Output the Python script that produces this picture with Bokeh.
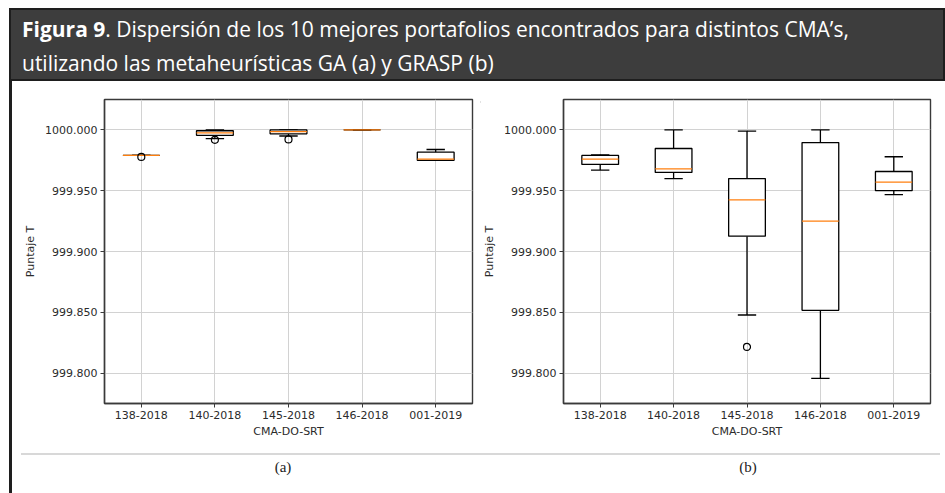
from bokeh.plotting import figure
from bokeh.models import Div, FixedTicker, PrintfTickFormatter
from bokeh.layouts import column, row
from bokeh.embed import file_html
from bokeh.resources import INLINE

# ---------------- data ----------------
categories = ["138-2018", "140-2018", "145-2018", "146-2018", "001-2019"]
y_ticks = [999.800, 999.850, 999.900, 999.950, 1000.000]
y_limits = (999.775, 1000.025)

# (a) GA
ga_q1 = [999.9790, 999.9955, 999.9968, 1000.0000, 999.9750]
ga_q3 = [999.9790, 999.9993, 1000.0000, 1000.0000, 999.9817]
ga_median = [999.9790, 999.9975, 999.9985, 1000.0000, 999.9760]
ga_whisker_low = [999.9790, 999.9928, 999.9950, 1000.0000, 999.9750]
ga_whisker_high = [999.9790, 1000.0000, 1000.0000, 1000.0000, 999.9839]
ga_outlier_cat = ["138-2018", "140-2018", "145-2018"]
ga_outlier_val = [999.9778, 999.9918, 999.9922]

# (b) GRASP
grasp_q1 = [999.9716, 999.9650, 999.9126, 999.8516, 999.9500]
grasp_q3 = [999.9790, 999.9847, 999.9600, 999.9896, 999.9658]
grasp_median = [999.9760, 999.9680, 999.9424, 999.9249, 999.9570]
grasp_whisker_low = [999.9670, 999.9600, 999.8478, 999.7957, 999.9467]
grasp_whisker_high = [999.9795, 1000.0000, 999.9990, 1000.0000, 999.9779]
grasp_outlier_cat = ["145-2018"]
grasp_outlier_val = [999.8215]

title_bold = "Figura 9"
title_rest_1 = ". Dispersión de los 10 mejores portafolios encontrados para distintos CMA’s,"
title_line_2 = "utilizando las metaheurísticas GA (a) y GRASP (b)"
x_label = "CMA-DO-SRT"
y_label = "Puntaje T"
captions = ["(a)", "(b)"]

BOX_W = 0.5
CAP_W = 0.25
TXT = "#2b2b2b"
FRAME = "#3a3a3a"


def make_panel(q1, q3, med, lo, hi, out_cat, out_val, width, mb_left, mb_right):
    pos = {c: i + 1 for i, c in enumerate(categories)}
    xs = [pos[c] for c in categories]
    p = figure(width=width, height=350, x_range=(0.5, len(categories) + 0.5),
               y_range=y_limits, output_backend="svg", toolbar_location=None,
               min_border_left=mb_left, min_border_right=mb_right,
               min_border_top=6, min_border_bottom=40)
    p.background_fill_color = "white"
    p.border_fill_color = "white"
    p.outline_line_color = FRAME
    p.outline_line_width = 1.4

    # grid
    p.xgrid.ticker = FixedTicker(ticks=xs)
    p.ygrid.ticker = FixedTicker(ticks=y_ticks)
    for g in (p.xgrid, p.ygrid):
        g.grid_line_color = "#d2d2d2"
        g.grid_line_width = 1

    # axes
    p.xaxis.ticker = FixedTicker(ticks=xs)
    p.xaxis.major_label_overrides = {x: c for x, c in zip(xs, categories)}
    p.yaxis.ticker = FixedTicker(ticks=y_ticks)
    p.yaxis.formatter = PrintfTickFormatter(format="%.3f")
    p.xaxis.axis_label = x_label
    p.yaxis.axis_label = y_label
    for ax in (p.xaxis, p.yaxis):
        ax.axis_line_color = FRAME
        ax.axis_line_width = 1.4
        ax.major_tick_line_color = FRAME
        ax.major_tick_out = 4
        ax.major_tick_in = 0
        ax.minor_tick_line_color = None
        ax.major_label_text_font = "DejaVu Sans"
        ax.major_label_text_font_size = "11px"
        ax.major_label_text_color = TXT
        ax.major_label_standoff = 3
        ax.axis_label_text_font = "DejaVu Sans"
        ax.axis_label_text_font_size = "11px"
        ax.axis_label_text_font_style = "normal"
        ax.axis_label_text_color = TXT
        ax.axis_label_standoff = 3
    p.yaxis.axis_label_standoff = 5

    # whiskers
    p.segment(x0=xs, y0=q3, x1=xs, y1=hi, line_color="black", line_width=1.3)
    p.segment(x0=xs, y0=q1, x1=xs, y1=lo, line_color="black", line_width=1.3)
    # caps
    p.segment(x0=[x - CAP_W / 2 for x in xs], y0=hi, x1=[x + CAP_W / 2 for x in xs], y1=hi,
              line_color="black", line_width=1.3)
    p.segment(x0=[x - CAP_W / 2 for x in xs], y0=lo, x1=[x + CAP_W / 2 for x in xs], y1=lo,
              line_color="black", line_width=1.3)
    # boxes
    p.vbar(x=xs, width=BOX_W, top=q3, bottom=q1, fill_color="white",
           line_color="black", line_width=1.3)
    # medians
    p.segment(x0=[x - BOX_W / 2 for x in xs], y0=med, x1=[x + BOX_W / 2 for x in xs], y1=med,
              line_color="#ff7f0e", line_width=1.3)
    # outliers
    p.scatter(x=[pos[c] for c in out_cat], y=out_val, size=7, marker="circle",
              fill_color=None, line_color="black", line_width=1.2)
    return p


fig_a = make_panel(ga_q1, ga_q3, ga_median, ga_whisker_low, ga_whisker_high,
                   ga_outlier_cat, ga_outlier_val, 468, 92, 8)
fig_b = make_panel(grasp_q1, grasp_q3, grasp_median, grasp_whisker_low, grasp_whisker_high,
                   grasp_outlier_cat, grasp_outlier_val, 465, 83, 15)

header = Div(
    text=(
        '<div style="width:936px;height:73px;box-sizing:border-box;background:#3d3d3d;'
        'border:2px solid #1e1e1e;padding:2px 0 0 11px;color:#ffffff;'
        "font-family:'Open Sans';font-size:21px;line-height:34px;white-space:nowrap;\">"
        f"<b>{title_bold}</b>{title_rest_1}<br>{title_line_2}</div>"
    ),
    width=936, height=73, margin=(8, 0, 0, 9),
)

left_bar = Div(text='<div style="width:3px;height:412px;background:#1e1e1e;"></div>',
               width=3, height=412, margin=(0, 0, 0, 9))

top_line = Div(text='<div style="width:917px;height:2px;background:#d8d8d8;"></div>',
               width=917, height=2, margin=(10, 0, 0, 9))
bottom_line = Div(text='<div style="width:919px;height:2px;background:#d8d8d8;"></div>',
                  width=919, height=2, margin=(0, 0, 0, 9))

cap_style = ("position:absolute;top:23px;transform:translate(-50%,-50%);"
             "font-family:'Liberation Serif';font-size:15px;color:#222;")
caption_div = Div(
    text=(
        '<div style="position:relative;width:933px;height:48px;">'
        f'<span style="{cap_style}left:271px;">{captions[0]}</span>'
        f'<span style="{cap_style}left:736px;">{captions[1]}</span>'
        '</div>'
    ),
    width=933, height=48, margin=0,
)

content = column(top_line, row(fig_a, fig_b, spacing=0), bottom_line, caption_div, spacing=0)
layout = column(header, row(left_bar, content, spacing=0), spacing=0)

open("out.html", "w").write(file_html(layout, INLINE))
